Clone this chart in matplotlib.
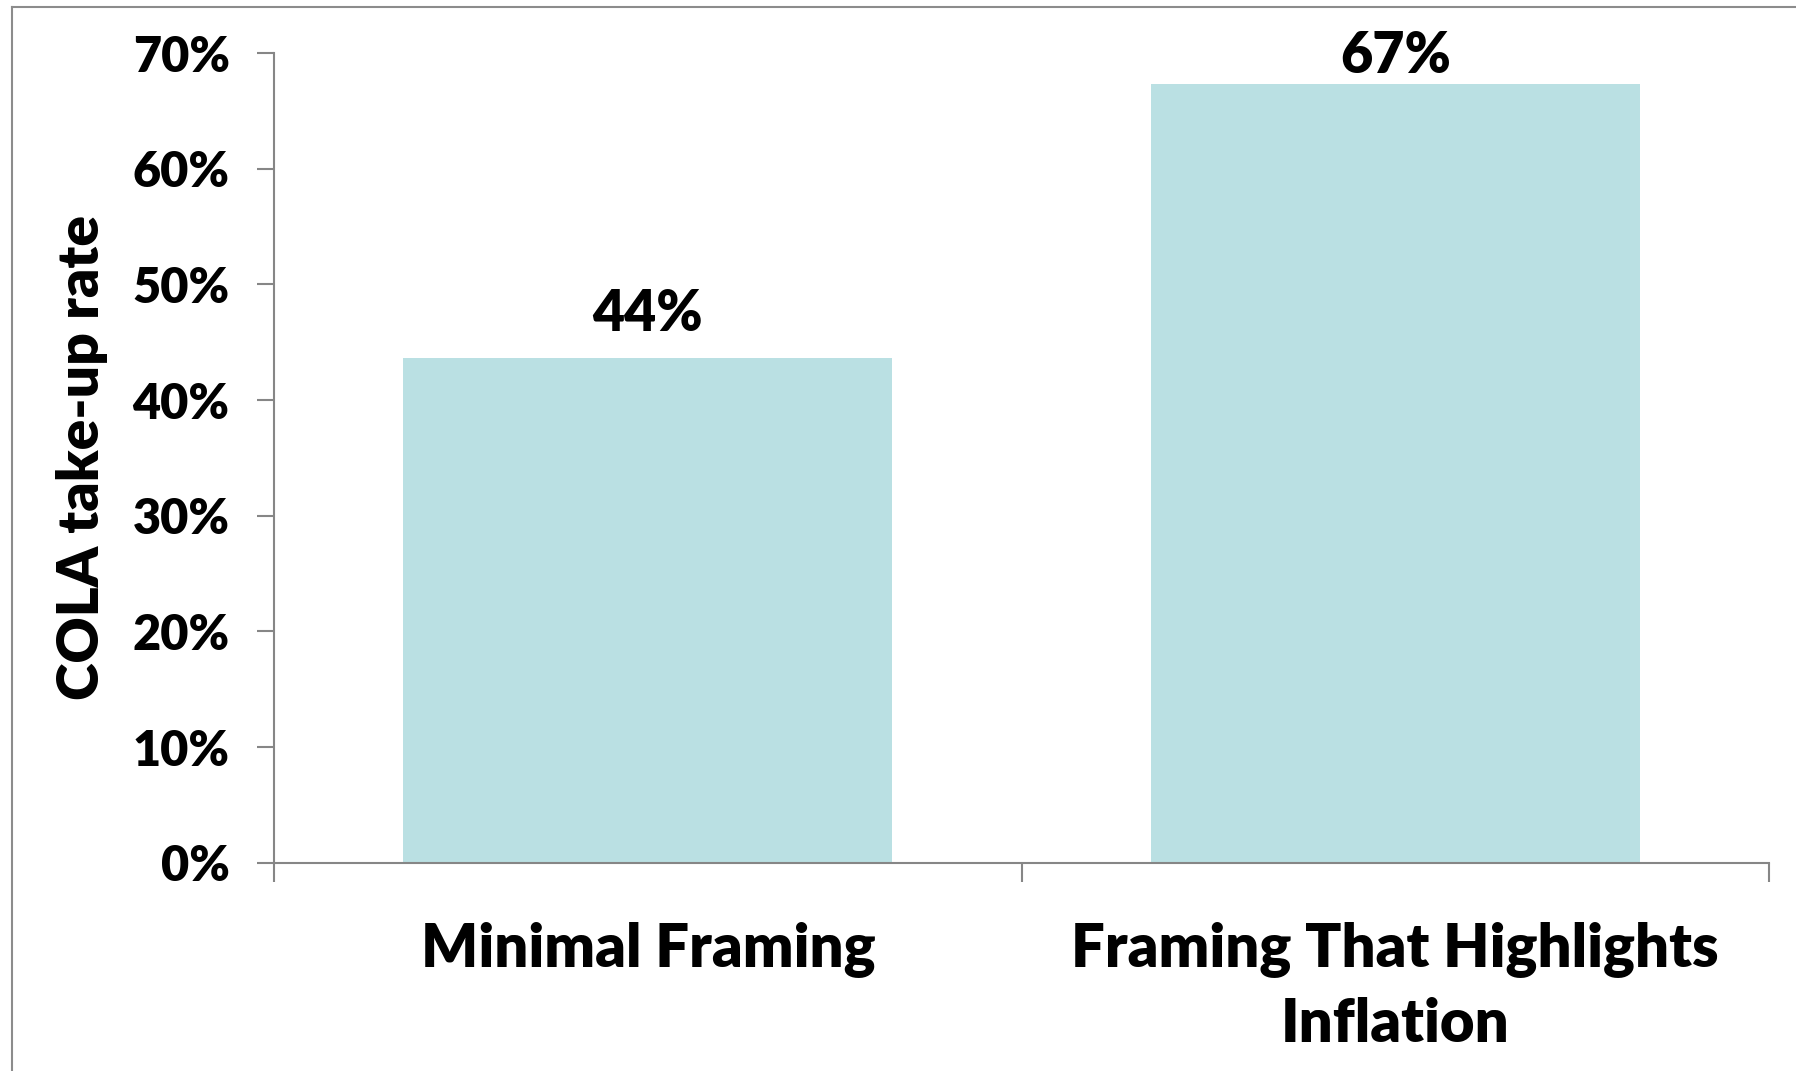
import matplotlib.pyplot as plt
from matplotlib.lines import Line2D

categories = ['Minimal Framing', 'Framing That Highlights\nInflation']
rates = [43.6, 67.3]
rate_labels = ['44%', '67%']
yticks = [0, 10, 20, 30, 40, 50, 60, 70]

plt.rcParams['font.family'] = ['Lato', 'DejaVu Sans']
W = 'heavy'

fig = plt.figure(figsize=(17.96, 10.71), dpi=100)
ax = fig.add_axes([0.1526, 0.1945, 0.8324, 0.756])

x = range(len(categories))
ax.bar(x, rates, width=0.654, color='#bae0e3')
# labels sit above the bars, but get pushed down near the top of the plot
for i, (v, lab) in enumerate(zip(rates, rate_labels)):
    ax.text(i, min(v + 2.4, 68.3), lab, ha='center', va='baseline',
            fontsize=40, fontweight=W)

ax.set_xlim(-0.5, 1.5)
ax.set_ylim(0, 70)
ax.set_yticks(yticks)
ax.set_yticklabels([f'{t}%' for t in yticks], fontsize=35, fontweight=W)
ax.set_xticks(list(x))
ax.set_xticklabels(categories, fontsize=43, fontweight=W, linespacing=1.45)
ax.set_xticks([-0.5, 0.5, 1.5], minor=True)
ax.tick_params(axis='x', which='major', length=0, pad=42)
ax.tick_params(axis='x', which='minor', length=14, width=1.5, color='#868686')
ax.tick_params(axis='y', length=12, width=1.5, color='#868686', pad=20)

for s in ['top', 'right']:
    ax.spines[s].set_visible(False)
for s in ['left', 'bottom']:
    ax.spines[s].set_color('#868686')
    ax.spines[s].set_linewidth(1.5)

ax.set_ylabel('COLA take-up rate', fontsize=41, fontweight=W, labelpad=18)

# outer chart frame (top and left edges visible)
fig.add_artist(Line2D([0.0067, 1.0], [0.9935, 0.9935], color='#8c8c8c', lw=1.5))
fig.add_artist(Line2D([0.0067, 0.0067], [0.0, 0.9935], color='#8c8c8c', lw=1.5))

fig.savefig('out.png', dpi=100)
